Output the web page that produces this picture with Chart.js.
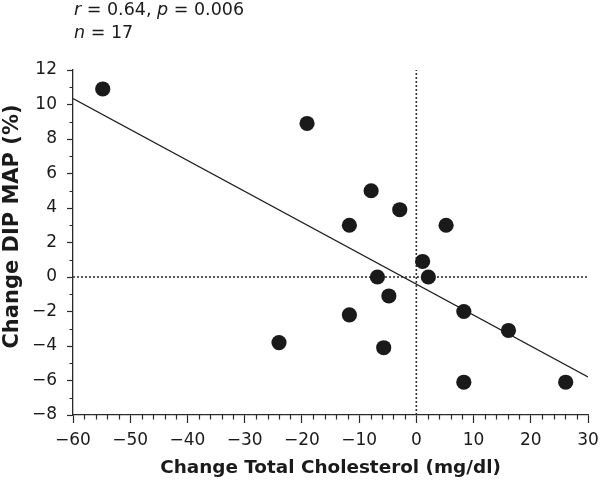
<!DOCTYPE html>
<html>
<head>
<meta charset="utf-8">
<script src="https://cdn.jsdelivr.net/npm/chart.js@4/dist/chart.umd.min.js"></script>
<style>
  html, body { margin: 0; padding: 0; background: #fff; }
  canvas { display: block; }
</style>
</head>
<body>
<canvas id="c" width="600" height="483"></canvas>
<script>
// ---- data ----
const cholChange = [-54.8, -19.1, -7.9, -2.9, -11.7, 5.2, 1.1, -6.8, 2.1, -4.8, 8.3, -11.7, 16.1, -24.0, -5.7, 8.3, 26.1];
const mapChange  = [10.9, 8.9, 5.0, 3.9, 3.0, 3.0, 0.9, 0.0, 0.0, -1.1, -2.0, -2.2, -3.1, -3.8, -4.1, -6.1, -6.1];
const fitX = [-60, 30];
const fitY = [10.34, -5.80];
const xRange = [-60, 30];
const yRange = [-8, 12];
const xStep = 10, yStep = 2;
const xMinorStep = 2, yMinorStep = 1;
const statsLine1 = [["r", true], [" = 0.64, ", false], ["p", true], [" = 0.006", false]];
const statsLine2 = [["n", true], [" = 17", false]];
const xTitle = "Change Total Cholesterol (mg/dl)";
const yTitle = "Change DIP MAP (%)";

const FONT = "'DejaVu Sans', sans-serif";
const INK = '#1a1a1a';
const AXIS = '#2a2a2a';

const points = cholChange.map((x, i) => ({ x: x, y: mapChange[i] }));
const fitLine = fitX.map((x, i) => ({ x: x, y: fitY[i] }));
const zeroH = [{ x: xRange[0], y: 0 }, { x: xRange[1], y: 0 }];
const zeroV = [{ x: 0, y: yRange[0] }, { x: 0, y: yRange[1] }];

const extras = {
  id: 'extras',
  afterDraw(chart) {
    const ctx = chart.ctx;
    const xs = chart.scales.x, ys = chart.scales.y;
    const area = chart.chartArea;
    ctx.save();
    ctx.strokeStyle = AXIS;
    ctx.lineWidth = 1.2;
    ctx.beginPath();
    for (let v = xRange[0]; v <= xRange[1]; v += xMinorStep) {
      if (v % xStep === 0) continue;
      const px = Math.round(xs.getPixelForValue(v)) + 0.5;
      ctx.moveTo(px, area.bottom);
      ctx.lineTo(px, area.bottom + 4.5);
    }
    for (let v = yRange[0]; v <= yRange[1]; v += yMinorStep) {
      if (v % yStep === 0) continue;
      const py = Math.round(ys.getPixelForValue(v)) + 0.5;
      ctx.moveTo(area.left, py);
      ctx.lineTo(area.left - 3.5, py);
    }
    ctx.stroke();

    // y axis title
    ctx.save();
    ctx.fillStyle = INK;
    ctx.font = 'bold 21px ' + FONT;
    ctx.textAlign = 'center';
    ctx.textBaseline = 'middle';
    ctx.translate(13, (area.top + area.bottom) / 2 - 16);
    ctx.rotate(-Math.PI / 2);
    ctx.fillText(yTitle, 0, 0);
    ctx.restore();

    // stats text
    ctx.fillStyle = INK;
    ctx.textBaseline = 'alphabetic';
    ctx.textAlign = 'left';
    const drawRich = (parts, x0, y0) => {
      let x = x0;
      for (const [t, it] of parts) {
        ctx.font = (it ? 'italic ' : '') + '17.5px ' + FONT;
        ctx.fillText(t, x, y0);
        x += ctx.measureText(t).width;
      }
    };
    drawRich(statsLine1, area.left + 1, 15);
    drawRich(statsLine2, area.left + 1, 38);
    ctx.restore();
  }
};

new Chart(document.getElementById('c'), {
  type: 'scatter',
  data: {
    datasets: [
      { data: points, backgroundColor: '#1a1a1a', borderWidth: 0, pointRadius: 7.6, pointHoverRadius: 7.6, order: 0 },
      { data: fitLine, showLine: true, borderColor: '#1e1e1e', borderWidth: 1.3, pointRadius: 0, fill: false, order: 1 },
      { data: zeroH, showLine: true, borderColor: '#333', borderWidth: 1.6, borderDash: [2, 2], pointRadius: 0, fill: false, order: 2 },
      { data: zeroV, showLine: true, borderColor: '#333', borderWidth: 1.6, borderDash: [2, 2], pointRadius: 0, fill: false, order: 2 }
    ]
  },
  options: {
    responsive: false,
    animation: false,
    devicePixelRatio: 1,
    layout: { padding: { top: 70, right: 12, bottom: 0, left: 0 } },
    plugins: { legend: { display: false }, tooltip: { enabled: false }, title: { display: false } },
    scales: {
      x: {
        type: 'linear',
        min: xRange[0], max: xRange[1],
        afterFit: (s) => { s.height = 68; s.paddingRight = 0; s.paddingLeft = 0; },
        ticks: {
          stepSize: xStep,
          padding: 7,
          color: INK,
          font: { family: FONT, size: 17 },
          maxRotation: 0,
          callback: (v) => (v < 0 ? '\u2212' + Math.abs(v) : String(v))
        },
        grid: { display: true, drawOnChartArea: false, drawTicks: true, tickLength: 8, tickColor: AXIS, tickWidth: 1.2 },
        border: { display: true, color: AXIS, width: 1.3 },
        title: { display: true, text: xTitle, color: INK, font: { family: FONT, size: 18.4, weight: 'bold' }, padding: { top: 0, bottom: 4 } }
      },
      y: {
        type: 'linear',
        min: yRange[0], max: yRange[1],
        afterFit: (s) => { s.width = 73; },
        ticks: {
          stepSize: yStep,
          padding: 10,
          color: INK,
          font: { family: FONT, size: 17 },
          callback: (v) => (v < 0 ? '\u2212' + Math.abs(v) : String(v))
        },
        grid: { display: true, drawOnChartArea: false, drawTicks: true, tickLength: 6, tickColor: AXIS, tickWidth: 1.2 },
        border: { display: true, color: AXIS, width: 1.3 },
        title: { display: false, text: yTitle }
      }
    }
  },
  plugins: [extras]
});
</script>
</body>
</html>
